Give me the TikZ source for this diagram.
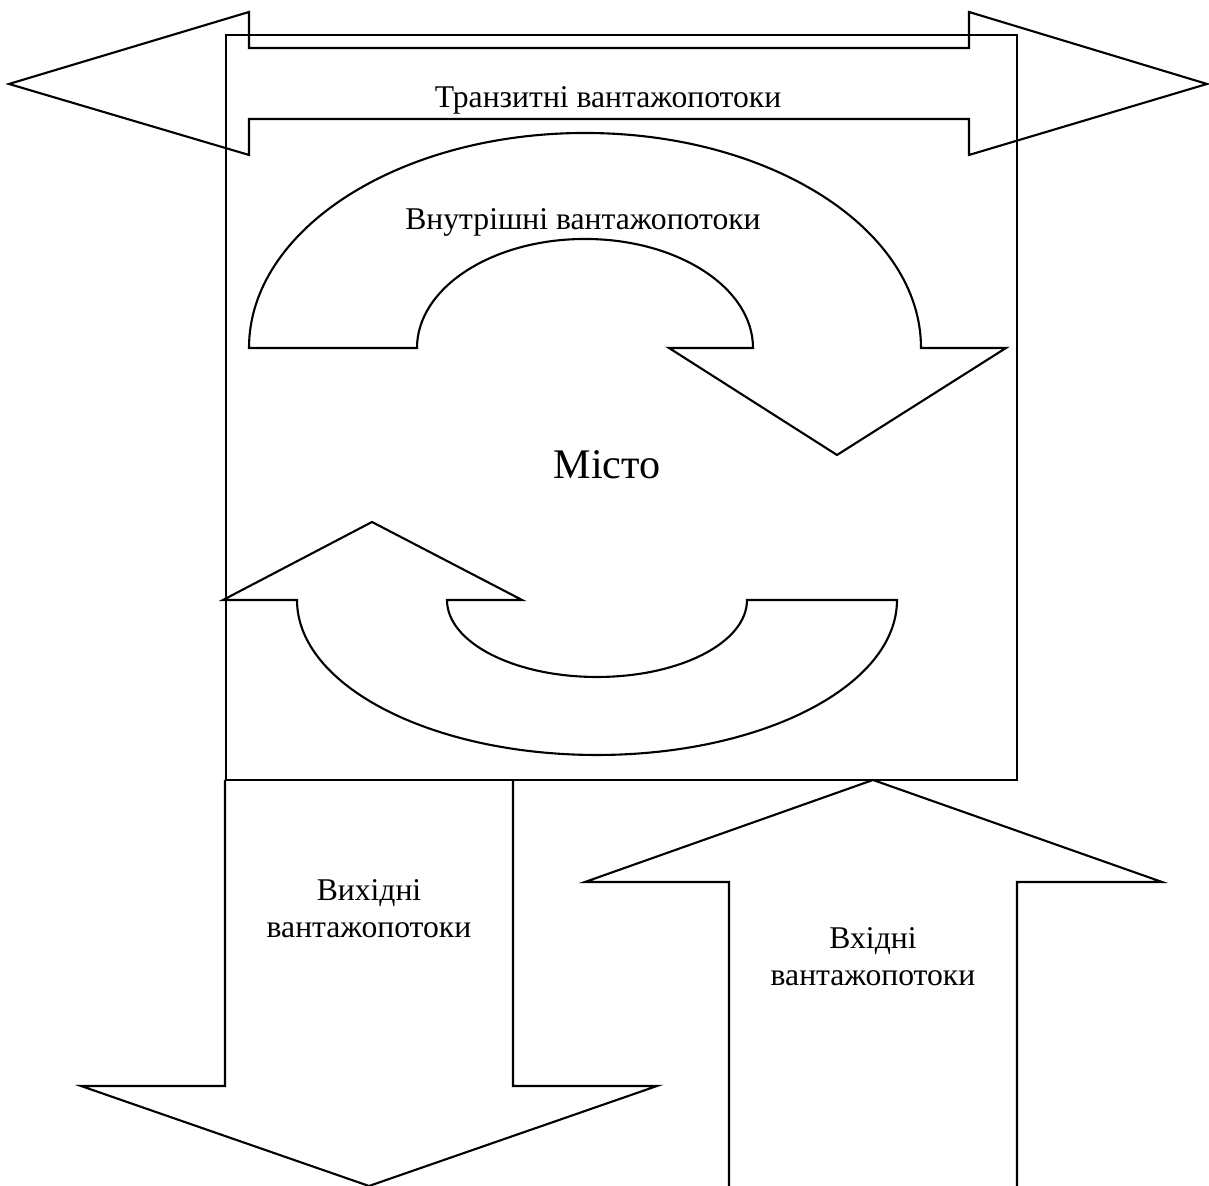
\documentclass[tikz,border=0pt]{standalone}
\usepackage{fontspec}
\setmainfont{Liberation Serif}

\begin{document}
\begin{tikzpicture}[
    x=0.01cm, y=0.01cm,
    flow/.style={draw=black, line width=0.6pt, line join=miter},
    caption/.style={font=\fontsize{9}{10.5}\selectfont, text=black, align=center, inner sep=0pt},
    city/.style={font=\fontsize{12}{14}\selectfont, text=black, inner sep=0pt}
]
\useasboundingbox (0,0) rectangle (1209,1186);

% місто
\draw[flow] (226,406) rectangle (1017,1151);
\node[city] (misto) at (607,721) {Місто};

% транзит
\draw[flow] (9,1102) -- (249,1174) -- (249,1138) -- (969,1138) -- (969,1174)
    -- (1207,1102) -- (969,1031) -- (969,1067) -- (249,1067) -- (249,1031) -- cycle;
\node[caption] (tranzyt) at (608,1086) {Транзитні вантажопотоки};

% внутрішні
\draw[flow] (249,838) arc[start angle=180, end angle=0, x radius=336, y radius=215]
    -- (1006,838) -- (837,731) -- (669,838) -- (753,838)
    arc[start angle=0, end angle=180, x radius=168, y radius=109] -- cycle;
\draw[flow] (897,586) arc[start angle=0, end angle=-180, x radius=300, y radius=155]
    -- (223,586) -- (372,664) -- (522,586) -- (447,586)
    arc[start angle=180, end angle=360, x radius=150, y radius=77] -- cycle;
\node[caption] (vnutr) at (583,964) {Внутрішні вантажопотоки};

% вихідні
\draw[flow] (225,406) -- (225,100) -- (81,100) -- (369,0) -- (657,100) -- (513,100) -- (513,406);
\node[caption] (vykhid) at (369,277) {Вихідні\\вантажопотоки};

% вхідні
\draw[flow] (729,0) -- (729,304) -- (585,304) -- (873,406) -- (1162,304) -- (1017,304) -- (1017,0);
\node[caption] (vkhid) at (873,229) {Вхідні\\вантажопотоки};
\end{tikzpicture}
\end{document}
